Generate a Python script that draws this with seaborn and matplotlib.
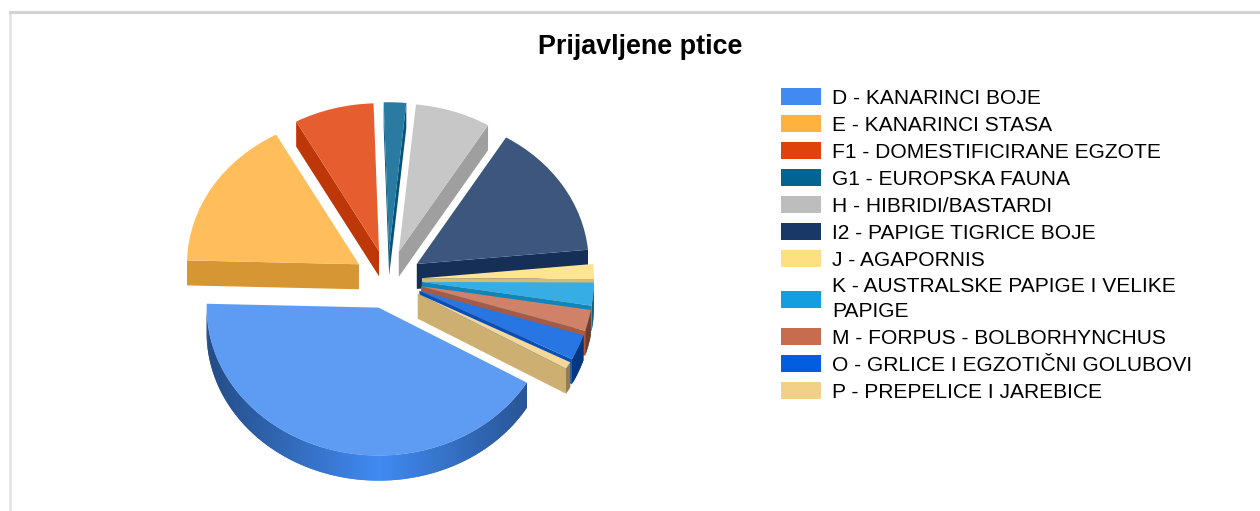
import numpy as np
import matplotlib
matplotlib.use('Agg')
import matplotlib.pyplot as plt
from matplotlib.patches import Patch, Polygon
import seaborn as sns

title = 'Prijavljene ptice'
categories = ['D - KANARINCI BOJE', 'E - KANARINCI STASA', 'F1 - DOMESTIFICIRANE EGZOTE',
              'G1 - EUROPSKA FAUNA', 'H - HIBRIDI/BASTARDI', 'I2 - PAPIGE TIGRICE BOJE',
              'J - AGAPORNIS', 'K - AUSTRALSKE PAPIGE I VELIKE\nPAPIGE',
              'M - FORPUS - BOLBORHYNCHUS', 'O - GRLICE I EGZOTIČNI GOLUBOVI',
              'P - PREPELICE I JAREBICE']
# share of each class in %
values = [42.0, 16.6, 7.5, 2.1, 7.1, 14.8, 1.6, 2.5, 2.3, 2.8, 0.8]
colors = ['#418af2', '#ffb23e', '#e1410a', '#036491', '#bdbdbd', '#1a3867',
          '#ffdf81', '#139edf', '#c86c4f', '#025ede', '#f3d087']

W, H = 1260, 511
cx_px, cy_px = 388, 279.5   # pie centre
rx_px, ry_px = 172, 148     # ellipse radii
depth = 25 / ry_px

sns.set_theme(style='white')
plt.rcParams['font.family'] = ['Liberation Sans', 'DejaVu Sans']

palette = sns.color_palette(colors)
# slice order on the pie is D, then P back round to E (counter clockwise)
pie_vals = [values[0]] + values[:0:-1]
pie_cols = [palette[0]] + palette[:0:-1]
# tops are the legend colours washed out a bit
top_cols = [tuple(v * 0.85 + 0.15 for v in c) for c in pie_cols]

fig = plt.figure(figsize=(W / 100, H / 100), dpi=100)

# page frame behind the chart
bg = fig.add_axes([9.5 / W, 0, 1 - 9 / W, (H - 12.5) / H])
bg.set_xticks([])
bg.set_yticks([])
sns.despine(ax=bg, top=False, left=False, right=True, bottom=True)
bg.spines['top'].set_color('#d3d3d3')
bg.spines['top'].set_linewidth(2.2)
bg.spines['left'].set_color('#e2e2e2')
bg.spines['left'].set_linewidth(1.8)

ax = fig.add_axes([0, 0, 1, 1])
ax.patch.set_alpha(0)
wedges, _ = ax.pie(pie_vals, explode=[34 / rx_px] * len(pie_vals), startangle=178.5,
                   colors=top_cols, radius=1, wedgeprops={'linewidth': 0})
ax.set_aspect('auto')
ax.set_xlim(-cx_px / rx_px, (W - cx_px) / rx_px)
ax.set_ylim(-(H - cy_px) / ry_px, cy_px / ry_px)


def shade(c, f):
    return tuple(min(1, v * f) for v in c)


def mid_sin(w):
    return np.sin(np.radians((w.theta1 + w.theta2) / 2))


# back slices first, so the front ones paint over them
z = 2
for w, col in sorted(zip(wedges, pie_cols), key=lambda p: -mid_sin(p[0])):
    x0, y0 = w.center
    for th, visible in ((w.theta1, np.cos(np.radians(w.theta1)) > 0),
                        (w.theta2, np.cos(np.radians(w.theta2)) < 0)):
        if visible:
            ex, ey = x0 + np.cos(np.radians(th)), y0 + np.sin(np.radians(th))
            wall = shade(col, 0.84)
            ax.add_patch(Polygon([(x0, y0), (ex, ey), (ex, ey - depth), (x0, y0 - depth)],
                                 facecolor=wall, linewidth=0, zorder=z))
            z += 1
    # outer rim, brightest towards the viewer; strips overlap to hide seams
    angles = np.append(np.arange(w.theta1, w.theta2, 1.0), w.theta2)
    for a, b in zip(angles[:-1], angles[1:]):
        if np.sin(np.radians((a + b) / 2)) >= 0:
            continue
        f = 0.55 + 0.45 * (1 - abs(np.cos(np.radians((a + b) / 2))))
        t = np.radians(np.linspace(a, min(b + 1.0, w.theta2), 4))
        xs, ys = x0 + np.cos(t), y0 + np.sin(t)
        pts = list(zip(xs, ys)) + list(zip(xs[::-1], ys[::-1] - depth))
        ax.add_patch(Polygon(pts, facecolor=shade(col, f), linewidth=0, zorder=z))
        z += 1
    w.set_zorder(z)
    z += 1

fig.text(640.5 / W, 1 - 46.5 / H, title, fontsize=19.4, fontweight='bold',
         ha='center', va='center', color='black')

handles = [Patch(facecolor=c, edgecolor='none') for c in palette]
leg = fig.legend(handles, categories, loc='upper left', bbox_to_anchor=(777 / W, 1 - 84 / H),
                 frameon=False, fontsize=15.1, handlelength=1.9, handleheight=0.87,
                 handletextpad=0.52, labelspacing=0.345, borderpad=0.2, borderaxespad=0,
                 labelcolor='black')
for txt in leg.get_texts():
    txt.set_linespacing(1.38)

fig.savefig('out.png', dpi=100)
